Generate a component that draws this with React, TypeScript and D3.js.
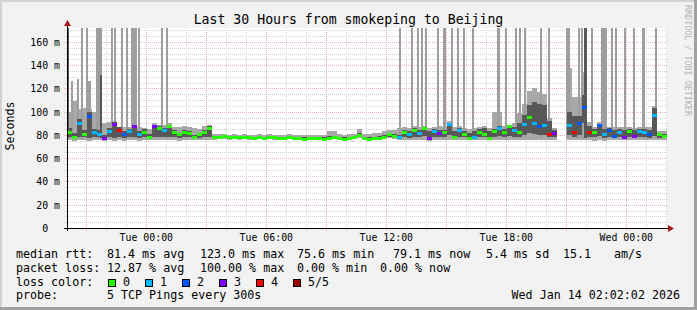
import React from "react";
import * as d3 from "d3";

const W = 697;
const H = 310;
const PLOT = { left: 67, right: 667, top: 28, bottom: 228 };
const Y_MAX = 172;

const startTime = new Date(2026, 0, 12, 20, 2, 2);
const endTime = new Date(2026, 0, 14, 2, 2, 2);
const STEP_MIN = 15;

const titleText = "Last 30 Hours from smokeping to Beijing";
const yAxisTitle = "Seconds";
const watermark = "RRDTOOL / TOBI OETIKER";

// median rtt (ms) per 15-minute step
const median = [
  82, 78, 90, 80, 96, 82, 80, 77, 83, 89,
  84, 80, 83, 87, 80, 82, 78, 87, 86, 84,
  87, 82, 80, 82, 81, 78, 80, 82, 86, 78,
  78, 78.5, 77.5, 78, 77.5, 78, 77.5, 77, 77.5, 77,
  78, 77.5, 77, 77, 78, 77, 77, 76.5, 77, 77,
  77, 76.5, 77, 77.5, 77, 76.5, 77, 77.5, 79.5, 77,
  76.5, 77, 77, 78, 80, 79, 78, 82, 80, 84,
  81, 86, 77, 83, 81, 82, 89, 78, 84, 80,
  77, 78, 82, 80, 77, 83, 86, 82, 87, 84,
  82, 89, 95, 90, 87, 88, 80, 81, null, null,
  88, 82, 90, 104, 82, 82, 88, 80, 84, 79,
  82, 78, 83, 79, 83, 82, 80, 97, 80, 79,
];

// lost pings (of 5) per step
const lossCount = [
  0, 0, 1, 0, 2, 1, 1, 3, 1, 3,
  4, 2, 1, 3, 1, 0, 0, 3, 0, 1,
  0, 0, 0, 0, 0, 0, 0, 0, 0, 0,
  0, 0, 0, 0, 0, 0, 0, 0, 0, 0,
  0, 0, 0, 0, 0, 0, 0, 0, 0, 0,
  0, 0, 0, 0, 0, 0, 0, 0, 0, 0,
  0, 0, 0, 0, 0, 0, 1, 0, 1, 0,
  1, 0, 3, 1, 3, 0, 1, 0, 1, 0,
  0, 1, 0, 0, 0, 0, 1, 0, 0, 1,
  0, 1, 0, 1, 2, 1, 4, 3, 0, 0,
  1, 4, 2, 2, 4, 0, 2, 1, 2, 2,
  1, 3, 0, 3, 1, 1, 2, 1, 0, 0,
];

// sorted pings: lowest, 2nd, 4th, highest (ms)
const pingMin = [
  76, 75, 76, 76, 75, 76, 76, 75, 76, 75,
  76, 75, 76, 76, 75, 76, 76, 76, 76, 76,
  76, 76, 75, 76, 76, 76, 76, 76, 76, 76,
  76.5, 76.5, 76, 76.5, 76, 76.5, 76, 76, 76.5, 76,
  76.5, 76, 76, 76, 76.5, 76, 76, 75.5, 76, 76,
  76, 75.5, 76, 76.5, 76, 75.5, 76, 76.5, 77, 76,
  75.5, 76, 76, 76.5, 77, 76.5, 76, 76, 75.5, 76,
  76, 76, 75, 76, 76, 76, 76, 76, 76, 76,
  75.5, 76, 76, 76, 75.5, 76, 76, 76, 76, 76,
  76, 76, 76, 76, 76, 76, 76, 76, null, null,
  76, 76, 76, 76, 76, 75, 76, 75, 75.5, 75.5,
  76, 75.5, 76, 75.5, 76, 76, 75.5, 76, 75.5, 76,
];

const ping2 = [
  78, 77, 78, 78, 77, 78, 78, 76, 78, 77,
  78, 77, 78, 78, 77, 78, 77, 78, 78, 78,
  78, 78, 77, 78, 78, 77, 77, 78, 78, 77,
  77, 77.5, 76.5, 77, 76.5, 77, 76.5, 76.5, 77, 76.5,
  77, 76.5, 76.5, 76.5, 77, 76.5, 76.5, 76, 76.5, 76.5,
  76.5, 76, 76.5, 77, 76.5, 76, 76.5, 77, 78, 76.5,
  76, 76.5, 76.5, 77, 78, 77.5, 77, 78, 77, 78,
  78, 79, 76.5, 78, 78, 78, 80, 77, 78, 78,
  76.5, 77, 78, 78, 76.5, 78, 79, 78, 79, 78,
  78, 80, 82, 81, 80, 80, 78, 78, null, null,
  80, 78, 80, 90, 78, 78, 79, 77, 78, 77,
  78, 77, 78, 77, 78, 78, 77, 79, 77.5, 77.5,
];

const ping4 = [
  86, 82, 94, 84, 100, 85, 84, 80, 86, 91,
  87, 83, 85, 89, 83, 85, 81, 89, 88, 86,
  89, 84, 82, 84, 83, 80, 82, 84, 88, 79,
  79, 79.5, 79, 79, 79, 79, 79, 78.5, 79, 78.5,
  79, 79, 78.5, 78.5, 79, 78.5, 78.5, 78, 78.5, 78.5,
  78.5, 78, 79, 79, 78.5, 78, 78.5, 79, 82, 78.5,
  78, 78.5, 79, 80, 82, 81, 80, 84, 83, 86,
  84, 87, 83, 85, 84, 84, 90, 83, 86, 83,
  82, 83, 85, 86, 83, 85, 88, 85, 88, 87,
  90, 97, 106, 108, 107, 106, 92, 84, null, null,
  100, 96, 96, 114, 88, 85, 89, 85, 86, 84,
  85, 84, 85, 84, 85, 85, 84, 103, 81, 81,
];

const pingMax = [
  100, 109, 102, 103, 102, 100, 100, 90, 91, 92,
  87, 87, 87, 90, 87, 86, 85, 90, 89, 89,
  90, 87, 87, 88, 87, 86, 85, 88, 89, 81,
  81, 81, 80, 81, 80, 81, 80, 80, 81, 80,
  81, 80, 80, 80, 81, 80, 80, 80, 80, 80,
  80, 80, 83, 83, 81, 80, 81, 81, 85, 81,
  81, 82, 82, 83, 84, 84, 86, 87, 86, 88,
  87, 88, 86, 87, 88, 87, 92, 87, 88, 86,
  85, 86, 87, 88, 86, 100, 100, 88, 88, 90,
  99, 107, 118, 120, 117, 115, 95, 86, null, null,
  138, 113, 113, 134, 91, 87, 91, 87, 87, 87,
  87, 87, 87, 86, 87, 87, 87, 105, 83, 83,
];

// short outliers (minutes since start, duration in minutes, highest ping ms)
const outlierStartMin = [
  0, 12, 30, 42, 57, 63, 87, 99, 132, 141, 162, 177, 192, 213, 282, 297,
  996, 1032, 1050, 1062, 1074, 1110, 1128, 1152, 1170, 1188,
  1215, 1290, 1314, 1344, 1356, 1371, 1419, 1443,
  1497, 1533, 1542, 1551, 1572, 1602, 1632, 1644, 1671, 1698, 1725, 1764,
];
const outlierDurMin = [
  6, 6, 6, 5, 5, 9, 18, 6, 5, 6, 5, 5, 18, 5, 5, 5,
  6, 5, 5, 5, 5, 5, 9, 5, 5, 5,
  6, 9, 5, 5, 6, 6, 6, 5,
  12, 5, 5, 9, 5, 18, 5, 6, 5, 5, 9, 5,
];
const outlierMaxMs = [
  250, 126, 128, 250, 250, 126, 250, 132, 250, 250, 250, 250, 250, 250, 250, 250,
  250, 250, 250, 250, 250, 250, 250, 250, 250, 250,
  250, 250, 250, 250, 250, 250, 250, 250,
  250, 250, 250, 250, 250, 250, 250, 250, 250, 250, 250, 250,
];
const outlierDark = [
  true, false, false, false, false, false, false, true, false, false, false, false, false, false, false, false,
  false, false, false, false, false, false, false, false, false, false,
  false, false, false, false, false, false, false, false,
  false, false, false, true, false, false, false, false, false, false, false, false,
];

const yMajorTicks = [0, 20, 40, 60, 80, 100, 120, 140, 160];
const lossColors = ["#26ff00", "#00b8ff", "#0059ff", "#7e00ff", "#ff0000", "#a10000"];
const lossLabels = ["0", "1", "2", "3", "4", "5/5"];

const legendRtt = [
  { text: "median rtt:", x: 16 },
  { text: "81.4 ms avg", x: 107 },
  { text: "123.0 ms max", x: 200 },
  { text: "75.6 ms min", x: 297 },
  { text: "79.1 ms now", x: 393 },
  { text: "5.4 ms sd", x: 486 },
  { text: "15.1", x: 563 },
  { text: "am/s", x: 614 },
];
const legendLoss = [
  { text: "packet loss:", x: 16 },
  { text: "12.87 % avg", x: 107 },
  { text: "100.00 % max", x: 200 },
  { text: "0.00 % min", x: 297 },
  { text: "0.00 % now", x: 380 },
];
const probeLabel = "probe:";
const probeText = "5 TCP Pings every 300s";
const stampText = "Wed Jan 14 02:02:02 2026";

const MONO = "'DejaVu Sans Mono', monospace";
const LIGHT = "#a8a8a8";
const SPIKE = "#9e9e9e";
const DARK = "#585858";

export default function App() {
  const x = d3.scaleTime().domain([startTime, endTime]).range([PLOT.left, PLOT.right]);
  const y = d3.scaleLinear().domain([0, Y_MAX]).range([PLOT.bottom, PLOT.top]).clamp(true);
  const tAt = (min: number) => new Date(startTime.getTime() + min * 60000);

  const minorH = d3.range(5, 171, 5).filter((v) => v % 20 !== 0);
  const majorH = yMajorTicks.filter((v) => v > 0);
  const hours = d3.timeHour.every(1)!.range(startTime, endTime);
  const labelTicks = d3.timeHour.every(6)!.range(startTime, endTime);
  const fmt = d3.timeFormat("%a %H:%M");

  const steps = median.map((m, i) => {
    const x0 = x(tAt(i * STEP_MIN));
    const x1 = x(tAt((i + 1) * STEP_MIN));
    return { i, x0, x1, m };
  });

  return (
    <svg width={W} height={H} style={{ position: "absolute", left: 0, top: 0 }}>
      <rect x={0} y={0} width={W} height={H} fill="#f2f2f2" />
      <rect x={0} y={0} width={W} height={2} fill="#d2d2d2" />
      <rect x={0} y={0} width={2} height={H} fill="#d2d2d2" />
      <rect x={0} y={H - 3} width={W} height={3} fill="#a0a0a0" />
      <rect x={W - 3} y={0} width={3} height={H} fill="#a0a0a0" />
      <rect x={PLOT.left} y={PLOT.top} width={PLOT.right - PLOT.left} height={PLOT.bottom - PLOT.top} fill="#ffffff" />

      {/* grid */}
      <g shapeRendering="crispEdges">
        {minorH.map((v) => (
          <line key={"mh" + v} x1={PLOT.left - 3} x2={PLOT.right} y1={Math.round(y(v)) + 0.5} y2={Math.round(y(v)) + 0.5}
            stroke="#d4d4d4" strokeDasharray="1,1" />
        ))}
        {hours.filter((h) => h.getHours() % 3 !== 0).map((h) => (
          <line key={"mv" + h.getTime()} x1={Math.round(x(h)) + 0.5} x2={Math.round(x(h)) + 0.5} y1={PLOT.top} y2={PLOT.bottom + 3}
            stroke="#d4d4d4" strokeDasharray="1,1" />
        ))}
        {majorH.map((v) => (
          <line key={"Mh" + v} x1={PLOT.left - 3} x2={PLOT.right} y1={Math.round(y(v)) + 0.5} y2={Math.round(y(v)) + 0.5}
            stroke="#eab0b0" strokeDasharray="1,1" />
        ))}
        {hours.filter((h) => h.getHours() % 3 === 0).map((h) => (
          <line key={"Mv" + h.getTime()} x1={Math.round(x(h)) + 0.5} x2={Math.round(x(h)) + 0.5} y1={PLOT.top} y2={PLOT.bottom + 3}
            stroke="#eab0b0" strokeDasharray="1,1" />
        ))}
      </g>

      {/* smoke */}
      <g shapeRendering="crispEdges">
        {steps.map((s) =>
          pingMax[s.i] == null ? null : (
            <rect key={"o" + s.i} x={s.x0} width={s.x1 - s.x0} y={y(pingMax[s.i] as number)}
              height={y(pingMin[s.i] as number) - y(pingMax[s.i] as number)} fill={LIGHT} />
          )
        )}
        {outlierStartMin.map((m, k) => {
          const x0 = x(tAt(m));
          const x1 = x(tAt(m + outlierDurMin[k]));
          return (
            <rect key={"sp" + k} x={x0} width={x1 - x0} y={y(outlierMaxMs[k])}
              height={y(77) - y(outlierMaxMs[k])} fill={outlierDark[k] ? DARK : SPIKE} />
          );
        })}
        {steps.map((s) =>
          ping4[s.i] == null ? null : (
            <rect key={"d" + s.i} x={s.x0} width={s.x1 - s.x0} y={y(ping4[s.i] as number)}
              height={y(ping2[s.i] as number) - y(ping4[s.i] as number)} fill={DARK} />
          )
        )}
        {steps.map((s) =>
          s.m == null ? null : (
            <rect key={"m" + s.i} x={s.x0} width={s.x1 - s.x0} y={y(s.m) - 1.5} height={3}
              fill={lossColors[lossCount[s.i]]} />
          )
        )}
      </g>

      {/* axes */}
      <g shapeRendering="crispEdges">
        <line x1={PLOT.left - 3} x2={PLOT.right + 4} y1={PLOT.bottom + 0.5} y2={PLOT.bottom + 0.5} stroke="#000" />
        <line x1={PLOT.left + 0.5} x2={PLOT.left + 0.5} y1={PLOT.bottom + 3} y2={PLOT.top - 4} stroke="#000" />
      </g>
      <path d={`M${PLOT.right + 1},${PLOT.bottom - 3} L${PLOT.right + 7},${PLOT.bottom + 0.5} L${PLOT.right + 1},${PLOT.bottom + 4} Z`} fill="#a01818" />
      <path d={`M${PLOT.left - 3},${PLOT.top - 2} L${PLOT.left + 0.5},${PLOT.top - 8} L${PLOT.left + 4},${PLOT.top - 2} Z`} fill="#a01818" />

      {/* axis labels */}
      <g fontFamily={MONO} fontSize={9.9} fill="#000">
        {yMajorTicks.map((v) => (
          <text key={"yl" + v} x={v === 0 ? 60 - 2 * 5.96 : 60} y={y(v) + 3.8} textAnchor="end">
            {v === 0 ? "0" : `${v} m`}
          </text>
        ))}
        {labelTicks.map((t) => (
          <text key={"xl" + t.getTime()} x={x(t)} y={241} textAnchor="middle">{fmt(t)}</text>
        ))}
      </g>

      <text x={348.5} y={24} textAnchor="middle" fontFamily={MONO} fontSize={13.2} fill="#000">{titleText}</text>
      <text transform="translate(14,126) rotate(-90)" textAnchor="middle" fontFamily={MONO} fontSize={11.67} fill="#000">{yAxisTitle}</text>
      <text transform="translate(685,5) rotate(90)" fontFamily={MONO} fontSize={8.4} fill="#b4b4b4">{watermark}</text>

      {/* legend */}
      <g fontFamily={MONO} fontSize={11.67} fill="#000">
        {legendRtt.map((l) => (
          <text key={"r" + l.x} x={l.x} y={258.3}>{l.text}</text>
        ))}
        {legendLoss.map((l) => (
          <text key={"l" + l.x} x={l.x} y={271.7}>{l.text}</text>
        ))}
        <text x={16} y={285.5}>loss color:</text>
        {lossColors.map((c, k) => {
          const bx = 108 + k * 36.9;
          return (
            <g key={"lc" + k}>
              <rect x={Math.round(bx) + 0.5} y={279.5} width={7} height={7} fill={c} stroke="#000" shapeRendering="crispEdges" />
              <text x={Math.round(bx) + 15} y={285.5}>{lossLabels[k]}</text>
            </g>
          );
        })}
        <text x={16} y={299}>{probeLabel}</text>
        <text x={107} y={299}>{probeText}</text>
        <text x={680} y={299} textAnchor="end">{stampText}</text>
      </g>
    </svg>
  );
}
